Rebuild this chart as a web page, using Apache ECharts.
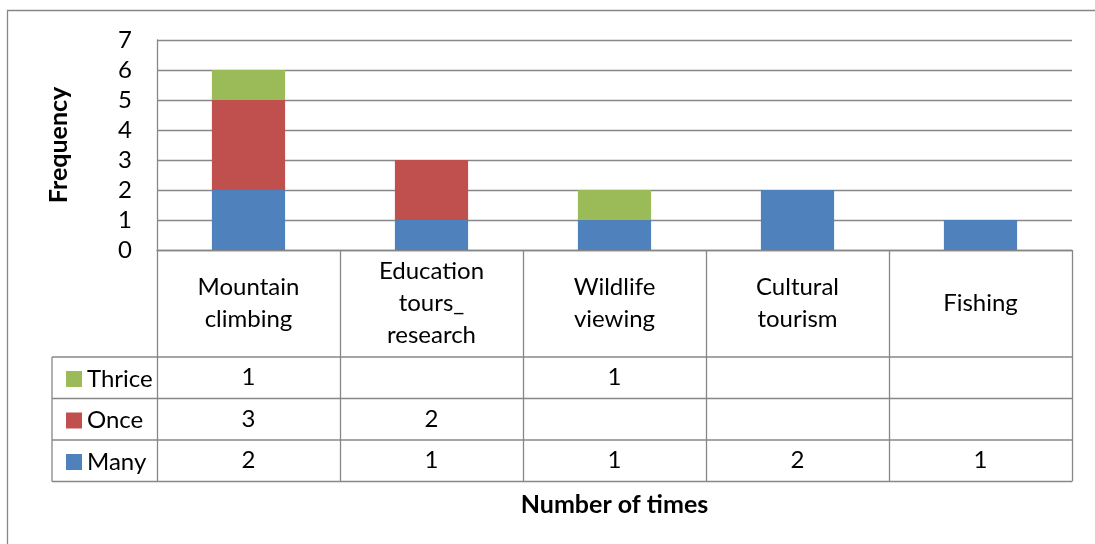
<!DOCTYPE html>
<html>
<head>
<meta charset="utf-8">
<script src="https://cdn.jsdelivr.net/npm/echarts@6/dist/echarts.min.js"></script>
<style>
html,body{margin:0;padding:0;background:#fff;}
#c{width:1095px;height:544px;}
</style>
</head>
<body>
<div id="c"></div>
<script>
// ---- data ----
const categories = ['Mountain climbing', 'Education tours_ research', 'Wildlife viewing', 'Cultural tourism', 'Fishing'];
const categoryLabels = ['Mountain\nclimbing', 'Education\ntours_\nresearch', 'Wildlife\nviewing', 'Cultural\ntourism', 'Fishing'];
const seriesNames = ['Many', 'Once', 'Thrice'];
const many = [2, 1, 1, 2, 1];
const once = [3, 2, null, null, null];
const thrice = [1, null, 1, null, null];
const yTicks = [0, 1, 2, 3, 4, 5, 6, 7];

// ---- style / layout ----
const FONT = 'Lato, "Liberation Sans", sans-serif';
const FS = 24;
const FSB = 25;
const GRAY = '#878787';
const colors = { Many: '#4F81BD', Once: '#C0504D', Thrice: '#9BBB59' };
const gridL = 157, gridR = 1072, gridT = 40, gridB = 250;
const headerH = 107, rowH = 41.5, legendColL = 52;
const rowOrder = ['Thrice', 'Once', 'Many'];
const rowValues = { Thrice: thrice, Once: once, Many: many };

const chart = echarts.init(document.getElementById('c'), null, { renderer: 'canvas' });

const xAxes = [{
  type: 'category',
  data: categories,
  gridIndex: 0,
  position: 'bottom',
  boundaryGap: true,
  axisLine: { show: true, lineStyle: { color: GRAY, width: 1.3 } },
  axisTick: { show: true, interval: 0, length: headerH + 3 * rowH, lineStyle: { color: GRAY, width: 1.3 } },
  axisLabel: {
    interval: 0, margin: headerH / 2, verticalAlign: 'middle', align: 'center',
    color: '#000', fontFamily: FONT, fontSize: FS, lineHeight: 32,
    formatter: (v, i) => categoryLabels[i]
  },
  splitLine: { show: false },
  name: 'Number of times',
  nameLocation: 'middle',
  nameGap: 242,
  nameTextStyle: { color: '#000', fontFamily: FONT, fontSize: FSB, fontWeight: 'bold' }
}];
rowOrder.forEach((name, r) => {
  const vals = rowValues[name];
  xAxes.push({
    type: 'category',
    data: categories,
    gridIndex: 0,
    position: 'bottom',
    boundaryGap: true,
    axisLine: { show: false },
    axisTick: { show: false },
    splitLine: { show: false },
    axisLabel: {
      interval: 0, margin: headerH + rowH * r + rowH / 2, verticalAlign: 'middle', align: 'center',
      color: '#000', fontFamily: FONT, fontSize: FS,
      formatter: (v, i) => (vals[i] == null ? '' : String(vals[i]))
    }
  });
});

const bars = [['Many', many], ['Once', once], ['Thrice', thrice]].map(([name, data]) => ({
  name: name,
  type: 'bar',
  stack: 'total',
  xAxisIndex: 0,
  yAxisIndex: 0,
  barWidth: '40%',
  data: data,
  itemStyle: { color: colors[name] },
  emphasis: { disabled: true },
  animation: false
}));

// table lines (structure, not data)
const graphics = [
  { type: 'rect', shape: { x: 7.5, y: 10.5, width: 1100, height: 600 }, style: { fill: 'none', stroke: GRAY, lineWidth: 1.3 }, silent: true }
];
for (let r = 0; r <= 3; r++) {
  const y = gridB + headerH + rowH * r;
  graphics.push({ type: 'line', shape: { x1: legendColL, y1: y, x2: gridR, y2: y }, style: { stroke: GRAY, lineWidth: 1.3 }, silent: true });
}
graphics.push({ type: 'line', shape: { x1: legendColL, y1: gridB + headerH, x2: legendColL, y2: gridB + headerH + 3 * rowH }, style: { stroke: GRAY, lineWidth: 1.3 }, silent: true });

chart.setOption({
  animation: false,
  backgroundColor: '#fff',
  grid: { left: gridL, right: 1095 - gridR, top: gridT, bottom: 544 - gridB, containLabel: false },
  legend: {
    data: rowOrder,
    orient: 'vertical',
    left: 61,
    top: gridB + headerH + 4,
    itemWidth: 16,
    itemHeight: 16,
    itemGap: rowH - 26,
    icon: 'rect',
    selectedMode: false,
    textStyle: { color: '#000', fontFamily: FONT, fontSize: FS, lineHeight: 26 }
  },
  xAxis: xAxes,
  yAxis: {
    type: 'value',
    min: yTicks[0],
    max: yTicks[yTicks.length - 1],
    interval: 1,
    axisLine: { show: true, lineStyle: { color: GRAY, width: 1.3 } },
    axisTick: { show: false },
    splitLine: { show: true, lineStyle: { color: GRAY, width: 1.3 } },
    axisLabel: { color: '#000', fontFamily: FONT, fontSize: FS, margin: 25 },
    name: 'Frequency',
    nameLocation: 'middle',
    nameRotate: 90,
    nameGap: 86,
    nameTextStyle: { color: '#000', fontFamily: FONT, fontSize: FSB, fontWeight: 'bold' }
  },
  series: bars,
  graphic: graphics
});
</script>
</body>
</html>
